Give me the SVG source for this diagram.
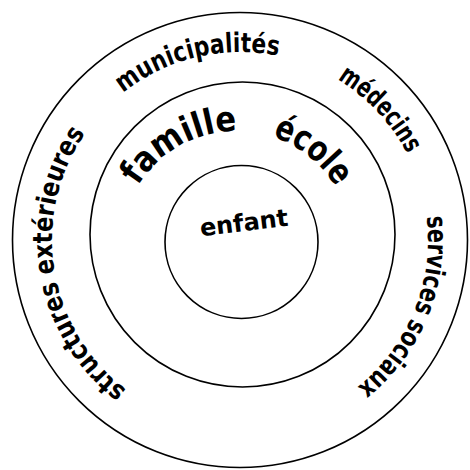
<svg xmlns="http://www.w3.org/2000/svg" width="470" height="470" viewBox="0 0 470 470">
  <style>
    .ring { fill: none; stroke: #000; stroke-width: 1.6; }
    .lbl { font-family: "Comic Sans MS", "DejaVu Sans", "Liberation Sans", sans-serif; font-weight: bold; fill: #000; }
    .outer { font-size: 27px; }
    .mid { font-size: 35px; }
    .core { font-size: 24px; }
  </style>
  <defs>
    <path id="p-muni" d="M 123.0,92.9 A 188 188 0 0 1 278.1,55.9"/>
    <path id="p-med" d="M 337.4,79.2 A 188 188 0 0 1 407.1,153.8"/>
    <path id="p-serv" d="M 426.6,216.8 A 188 188 0 0 1 357.3,386.9"/>
    <path id="p-struct" d="M 126.6,389.9 A 188 188 0 0 1 85.1,133.5"/>
    <path id="p-fam" d="M 137.9,185.9 A 116 116 0 0 1 236.9,131.0"/>
    <path id="p-ecole" d="M 272.5,136.7 A 116 116 0 0 1 335.6,186.7"/>
  </defs>
  <rect width="470" height="470" fill="#fff"/>
  <g id="ring-outer">
    <circle class="ring" cx="240" cy="240" r="227.5"/>
    <text class="lbl outer"><textPath href="#p-muni" textLength="164.7" lengthAdjust="spacingAndGlyphs">municipalités</textPath></text>
    <text class="lbl outer"><textPath href="#p-med" textLength="103.4" lengthAdjust="spacingAndGlyphs">médecins</textPath></text>
    <text class="lbl outer"><textPath href="#p-serv" textLength="191.9" lengthAdjust="spacingAndGlyphs">services sociaux</textPath></text>
    <text class="lbl outer"><textPath href="#p-struct" textLength="286.8" lengthAdjust="spacingAndGlyphs">structures extérieures</textPath></text>
  </g>
  <g id="ring-middle">
    <circle class="ring" cx="242.5" cy="234.5" r="152.5"/>
    <text class="lbl mid"><textPath href="#p-fam" textLength="118.2" lengthAdjust="spacingAndGlyphs">famille</textPath></text>
    <text class="lbl mid"><textPath href="#p-ecole" textLength="82.2" lengthAdjust="spacingAndGlyphs">école</textPath></text>
  </g>
  <g id="ring-inner">
    <circle class="ring" cx="241.5" cy="242" r="76.5"/>
    <text class="lbl core" x="244" y="231" text-anchor="middle" transform="rotate(-7 244 224)">enfant</text>
  </g>
</svg>
